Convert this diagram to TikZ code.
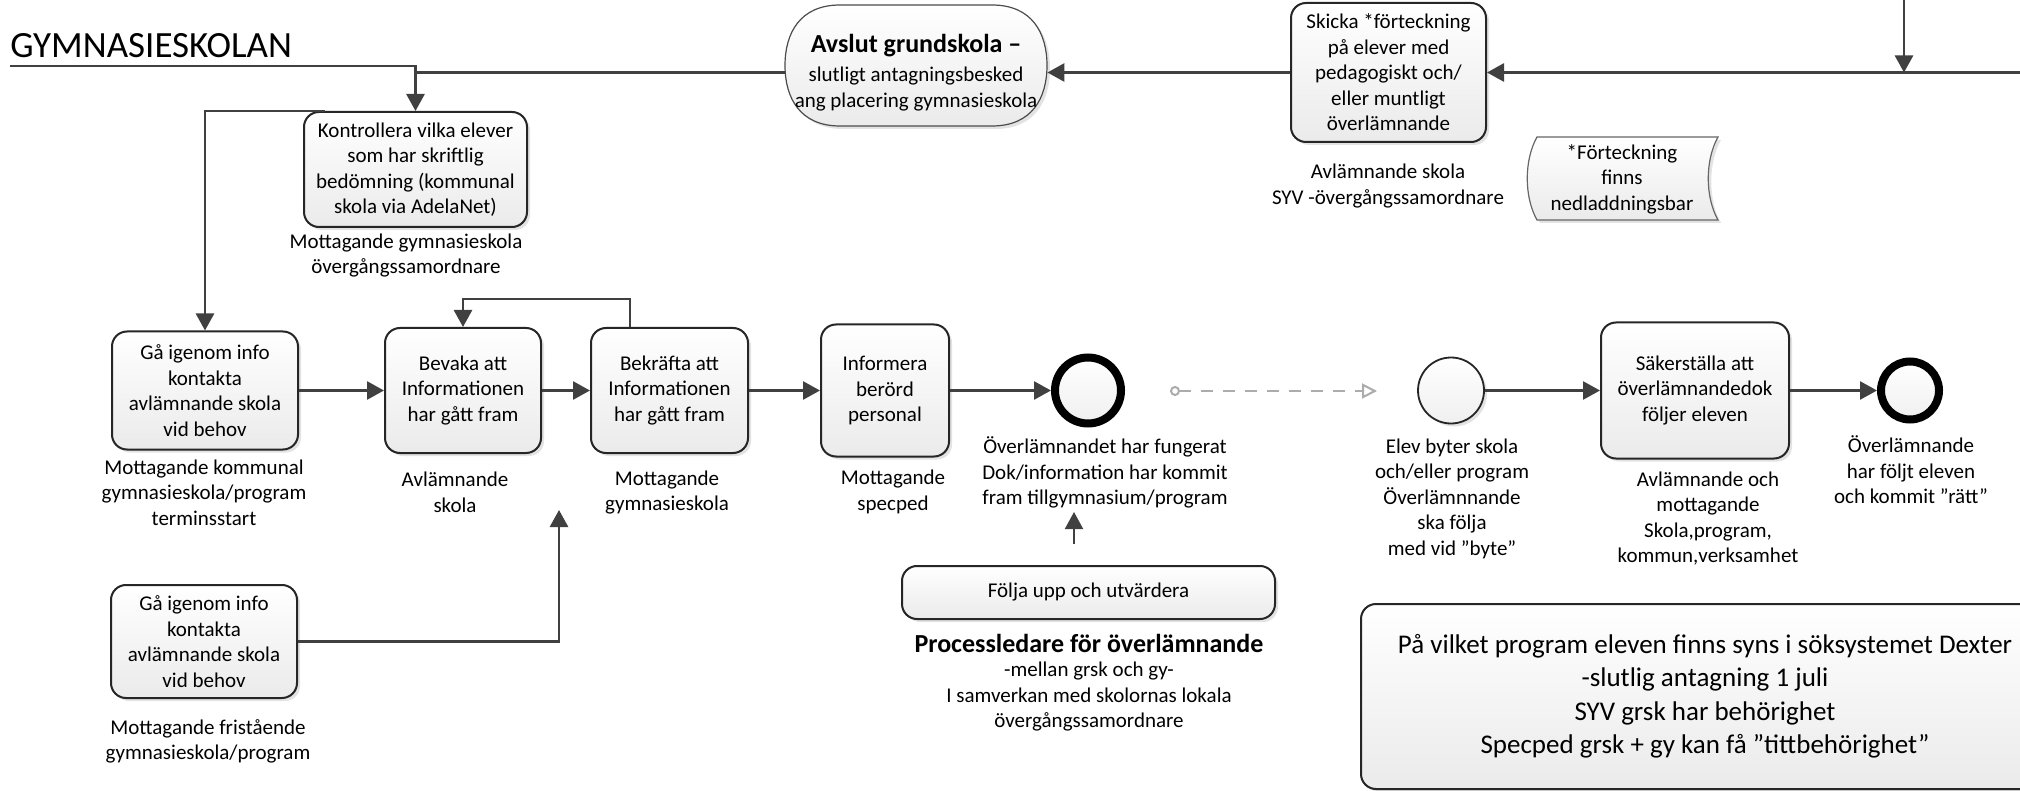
\documentclass[tikz,border=0pt]{standalone}
\usepackage{fontspec}
\setmainfont{Carlito}
\usetikzlibrary{arrows.meta,shadows,calc}
\newcommand\nsz{\fontsize{10.5pt}{12.75pt}\selectfont}
\newcommand\bigsz{\fontsize{13.5pt}{16.75pt}\selectfont}
\newcommand\titlesz{\fontsize{18.5pt}{22pt}\selectfont}
\tikzset{
  every node/.style={inner sep=0pt, align=center, font=\nsz, text=black},
  shad/.style={drop shadow={shadow xshift=1.5pt, shadow yshift=-1.5pt, opacity=0.22}},
  procbox/.style={draw=black!85, line width=1pt, rounded corners=7.5pt, top color=white, bottom color=gray!16, shad},
  endev/.style={circle, draw=black, line width=4pt, top color=white, bottom color=gray!12, shad},
  startev/.style={circle, draw=black!85, line width=0.9pt, top color=white, bottom color=gray!12, shad},
  conn/.style={draw=black!75, line width=1.35pt, -{Triangle[length=8.5pt,width=9pt]}},
  plainline/.style={draw=black!75, line width=1.35pt},
  dashconn/.style={draw=gray!65, line width=1pt, dash pattern=on 6pt off 5pt, {Circle[open,length=5pt,width=5pt]}-{Triangle[open,length=7.5pt,width=7.5pt]}},
}
\begin{document}
\begin{tikzpicture}[x=0.5pt,y=-0.5pt]
\useasboundingbox (0,0) rectangle (2020,791);
\fill[white] (0,0) rectangle (2020,791);

% title
\node[font=\titlesz, anchor=base west] (title) at (10,58) {GYMNASIESKOLAN};
\draw[plainline] (title.south west |- 0,66) -- (415.5,66) -- (415.5,72.5);

% Avslut shape
\path[draw=black!70, line width=0.6pt, top color=white, bottom color=gray!16, shad]
  (840,5) -- (992,5) .. controls (1032,5) and (1047,33) .. (1047,65.5)
  .. controls (1047,98) and (1032,126) .. (992,126) -- (840,126)
  .. controls (800,126) and (785,98) .. (785,65.5)
  .. controls (785,33) and (800,5) .. (840,5) -- cycle;
\node[minimum width=131pt, minimum height=60pt] (avslut) at (916,72.5)
  {{\fontsize{13pt}{15pt}\selectfont\bfseries Avslut grundskola –}\\[2pt]slutligt antagningsbesked\\ang placering gymnasieskola};

% Skicka
\node[procbox, minimum width=97.5pt, minimum height=69.5pt] (skicka) at (1388.5,72.5)
  {Skicka *förteckning\\på elever med\\pedagogiskt och/\\eller muntligt\\överlämnande};
\node (skickalab) at (1388,186) {Avlämnande skola\\SYV -övergångssamordnare};

% footnote (stored data shape)
\path[draw=black!60, line width=0.6pt, top color=white, bottom color=gray!16, shad]
  (1537,137) -- (1718,137) .. controls (1705,160) and (1705,197) .. (1718,220)
  -- (1537,220) .. controls (1524,197) and (1524,160) .. (1537,137) -- cycle;
\node (note) at (1622,179) {*Förteckning\\finns\\nedladdningsbar};

% top right incoming
\coordinate (tin) at (1904,-2);
\coordinate (tout) at (1904,72.5);
\coordinate (rin) at (2025,72.5);

% Kontrollera
\node[procbox, minimum width=111.5pt, minimum height=57.5pt] (kontr) at (415.5,169.5)
  {Kontrollera vilka elever\\som har skriftlig\\bedömning (kommunal\\skola via AdelaNet)};
\node (kontrlab) at (406,255.5) {Mottagande gymnasieskola\\övergångssamordnare};

% middle row
\node[procbox, minimum width=93pt, minimum height=59pt] (ga1) at (205,390.5)
  {Gå igenom info\\kontakta\\avlämnande skola\\vid behov};
\node (ga1lab) at (204,492.5) {Mottagande kommunal\\gymnasieskola/program\\terminsstart};

\node[procbox, minimum width=78pt, minimum height=62.5pt] (bevaka) at (463,390.5)
  {Bevaka att\\Informationen\\har gått fram};
\node (bevlab) at (455,492.5) {Avlämnande\\skola};

\node[procbox, minimum width=78.5pt, minimum height=62.5pt] (bekr) at (669.5,390.5)
  {Bekräfta att\\Informationen\\har gått fram};
\node (beklab) at (667,492.5) {Mottagande\\gymnasieskola};

\node[procbox, minimum width=64pt, minimum height=66pt] (informera) at (885,390.5)
  {Informera\\berörd\\personal};
\node (inflab) at (893,492) {Mottagande\\specped};

\node[endev, minimum size=33pt] (end1) at (1088,390.5) {};
\node (end1lab) at (1105,472.5) {Överlämnandet har fungerat\\Dok/information har kommit\\fram tillgymnasium/program};

\coordinate (dA) at (1170,391);
\coordinate (dB) at (1377,391);

\node[startev, minimum size=33pt] (elev) at (1451,390.5) {};
\node (elevlab) at (1452,498.5) {Elev byter skola\\och/eller program\\Överlämnnande\\ska följa\\med vid ”byte”};

\node[procbox, minimum width=94pt, minimum height=68pt] (saker) at (1695,390.5)
  {Säkerställa att\\överlämnandedok\\följer eleven};
\node (sakerlab) at (1708,518.5) {Avlämnande och\\mottagande\\Skola,program,\\kommun,verksamhet};

\node[endev, minimum size=29pt] (end2) at (1910,390.5) {};
\node (end2lab) at (1911,470) {Överlämnande\\har följt eleven\\och kommit ”rätt”};

% lower left
\node[procbox, minimum width=93pt, minimum height=56.5pt] (ga2) at (204,641.5)
  {Gå igenom info\\kontakta\\avlämnande skola\\vid behov};
\node (ga2lab) at (208,741.5) {Mottagande fristående\\gymnasieskola/program};
\coordinate (up1) at (559,510);

% follow up
\node[procbox, minimum width=186.5pt, minimum height=26.5pt] (folja) at (1088.5,592.5)
  {Följa upp och utvärdera};
\coordinate (uA) at (1074,544);
\coordinate (uB) at (1074,512);
\node[font=\fontsize{13pt}{15pt}\selectfont\bfseries] (procl) at (1089,643) {Processledare för överlämnande};
\node (proclsub) at (1089,697) {-mellan grsk och gy-\\I samverkan med skolornas lokala\\övergångssamordnare};

% big info box
\node[procbox, font=\bigsz, minimum width=344pt, minimum height=92.5pt] (bigbox) at (1705,696.5)
  {På vilket program eleven finns syns i söksystemet Dexter\\-slutlig antagning 1 juli\\SYV grsk har behörighet\\Specped grsk + gy kan få ”tittbehörighet”};

% connectors
\draw[conn] (skicka.west) -- (avslut.east);
\draw[conn] (rin) -- (skicka.east);
\draw[conn] (tin) -- (tout);
\draw[conn] (avslut.west) -| (kontr.north);
\draw[conn] ($(kontr.north west)+(22,0)$) -| (ga1.north);
\draw[conn] (ga1.east) -- (bevaka.west);
\draw[conn] (bevaka.east) -- (bekr.west);
\draw[conn] ($(bekr.north)+(-39.5,0)$) -- ++(0,-28) -| (bevaka.north);
\draw[conn] (bekr.east) -- (informera.west);
\draw[conn] (informera.east) -- (end1.west);
\draw[dashconn] (dA) -- (dB);
\draw[conn] (elev.east) -- (saker.west);
\draw[conn] (saker.east) -- (end2.west);
\draw[conn] (ga2.east) -| (up1);
\draw[conn, line width=1pt] (uA) -- (uB);
\end{tikzpicture}
\end{document}
